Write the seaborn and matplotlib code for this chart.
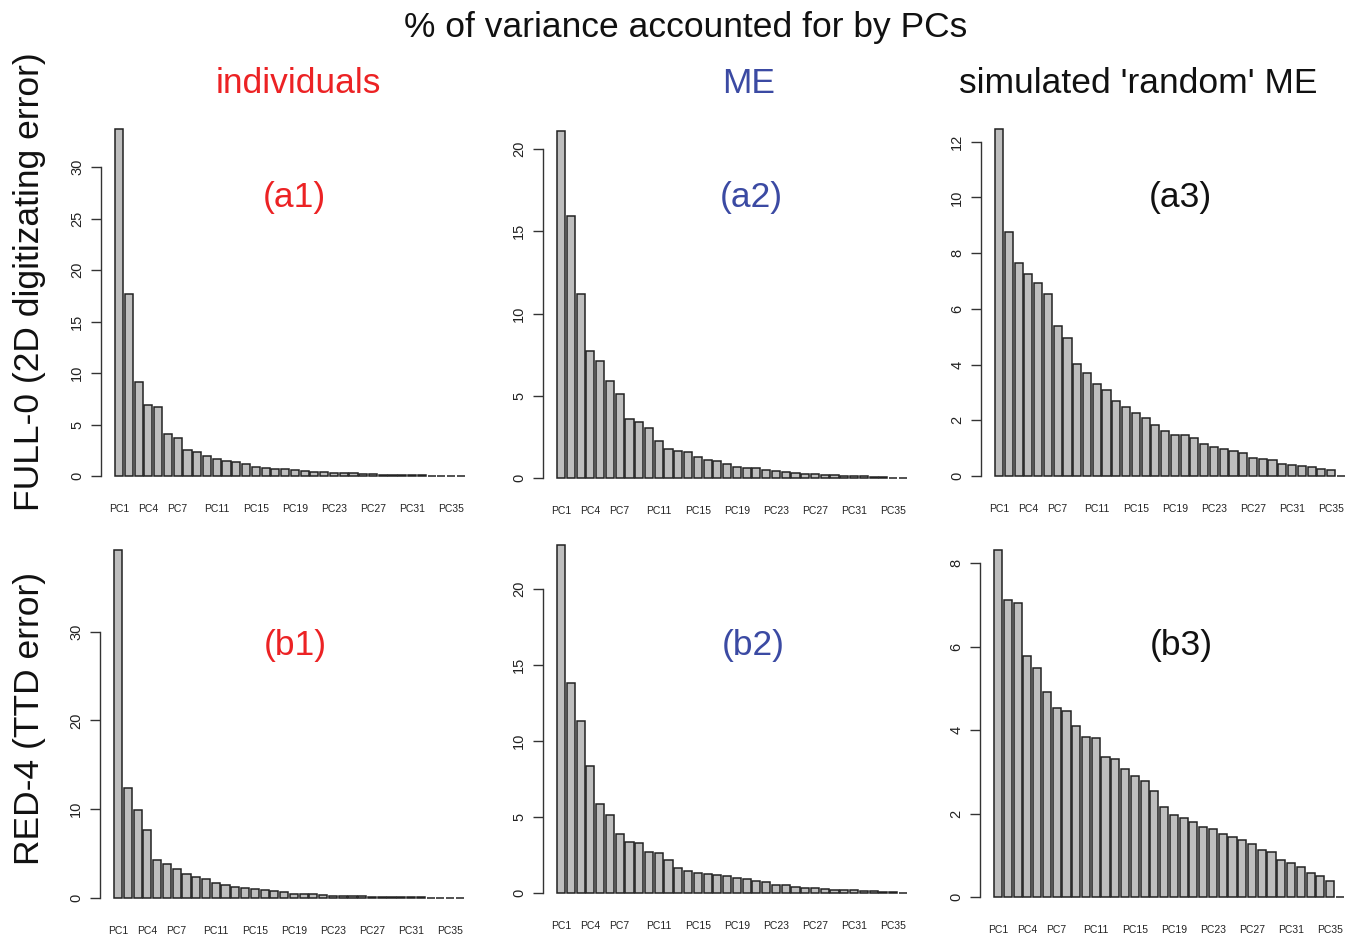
import matplotlib
matplotlib.use("Agg")
import matplotlib.pyplot as plt
import seaborn as sns

# Percentage of variance per principal component (PC1..PC36)
pcs = [f"PC{i}" for i in range(1, 37)]

a1_individuals = [33.7, 17.7, 9.1, 6.9, 6.7, 4.05, 3.66, 2.5, 2.3, 2.0, 1.65, 1.45,
                  1.4, 1.13, 0.85, 0.8, 0.71, 0.65, 0.55, 0.5, 0.42, 0.36, 0.32, 0.29,
                  0.26, 0.2, 0.18, 0.15, 0.12, 0.1, 0.08, 0.06, 0.05, 0.04, 0.03, 0.02]
a2_me = [21.1, 15.9, 11.2, 7.7, 7.09, 5.9, 5.1, 3.6, 3.42, 3.06, 2.23, 1.78,
         1.66, 1.56, 1.26, 1.11, 1.01, 0.83, 0.69, 0.63, 0.61, 0.47, 0.45, 0.4,
         0.3, 0.28, 0.22, 0.2, 0.18, 0.14, 0.12, 0.1, 0.06, 0.04, 0.02, 0.01]
a3_random = [12.46, 8.75, 7.66, 7.26, 6.93, 6.54, 5.40, 4.97, 4.01, 3.70, 3.29, 3.08,
             2.71, 2.49, 2.28, 2.07, 1.83, 1.62, 1.47, 1.46, 1.37, 1.17, 1.05, 0.96,
             0.9, 0.84, 0.66, 0.63, 0.57, 0.44, 0.40, 0.35, 0.31, 0.24, 0.23, 0.0]
b1_individuals = [39.2, 12.35, 9.97, 7.64, 4.33, 3.8, 3.31, 2.75, 2.37, 2.18, 1.73, 1.5,
                  1.28, 1.17, 0.98, 0.9, 0.79, 0.72, 0.49, 0.45, 0.41, 0.38, 0.26, 0.23,
                  0.2, 0.18, 0.16, 0.14, 0.12, 0.1, 0.09, 0.07, 0.05, 0.04, 0.03, 0.02]
b2_me = [22.88, 13.8, 11.34, 8.35, 5.87, 5.1, 3.91, 3.36, 3.27, 2.73, 2.66, 2.15,
         1.65, 1.47, 1.34, 1.23, 1.21, 1.12, 0.97, 0.92, 0.81, 0.7, 0.55, 0.5,
         0.42, 0.35, 0.33, 0.28, 0.22, 0.2, 0.17, 0.15, 0.12, 0.09, 0.06, 0.02]
b3_random = [8.32, 7.13, 7.05, 5.78, 5.49, 4.91, 4.53, 4.45, 4.09, 3.84, 3.81, 3.35,
             3.3, 3.07, 2.91, 2.79, 2.54, 2.15, 1.97, 1.9, 1.81, 1.68, 1.64, 1.52,
             1.43, 1.36, 1.28, 1.14, 1.07, 0.90, 0.82, 0.72, 0.57, 0.50, 0.38, 0.0]

shown_labels = ["PC1", "PC4", "PC7", "PC11", "PC15", "PC19", "PC23", "PC27", "PC31", "PC35"]

column_titles = ["individuals", "ME", "simulated 'random' ME"]
row_titles = ["FULL-0 (2D digitizating error)", "RED-4 (TTD error)"]

RED = "#ec2224"
BLUE = "#3b4aa3"
BLACK = "#111111"

sns.set_style("white")
plt.rcParams["font.family"] = ["Liberation Sans", "DejaVu Sans"]

W, H = 1351, 935
fig = plt.figure(figsize=(W / 100, H / 100), dpi=100)

# (values, y ticks, panel tag, tag colour, plot box in pixels: left, top, right, bottom, tag position)
panels = [
    (a1_individuals, [0, 5, 10, 15, 20, 25, 30], "(a1)", RED, (101, 115, 479, 490), (294, 197)),
    (a2_me, [0, 5, 10, 15, 20], "(a2)", BLUE, (543, 117, 921, 492), (751, 197)),
    (a3_random, [0, 2, 4, 6, 8, 10, 12], "(a3)", BLACK, (981, 115, 1359, 490), (1180, 197)),
    (b1_individuals, [0, 10, 20, 30], "(b1)", RED, (100, 536, 478, 912), (295, 645)),
    (b2_me, [0, 5, 10, 15, 20], "(b2)", BLUE, (543, 531, 921, 907), (753, 645)),
    (b3_random, [0, 2, 4, 6, 8], "(b3)", BLACK, (980, 536, 1358, 911), (1181, 645)),
]

for vals, yticks, tag, tag_col, (l, t, r, b), (tx, ty) in panels:
    ax = fig.add_axes([l / W, 1 - b / H, (r - l) / W, (b - t) / H])
    sns.barplot(x=pcs, y=vals, order=pcs, color="#bebebe", saturation=1,
                edgecolor="#222222", linewidth=1.1, width=1 / 1.2, ax=ax)
    top = max(vals)
    ax.set_ylim(-0.04 * top, 1.04 * top)
    ax.set_xlim(-1.85, 36.85)
    ax.set_xticks([pcs.index(s) for s in shown_labels])
    ax.set_xticklabels(shown_labels, fontsize=7.5, color="#222222")
    ax.tick_params(axis="x", length=0, pad=10)
    ax.set_yticks(yticks)
    ax.set_yticklabels([str(v) for v in yticks], rotation=90, va="center",
                       fontsize=10.5, color="#222222")
    ax.tick_params(axis="y", length=7, width=1, color="#333333", pad=5, left=True)
    for side in ("top", "right", "bottom"):
        ax.spines[side].set_visible(False)
    ax.spines["left"].set_bounds(yticks[0], yticks[-1])
    ax.spines["left"].set_color("#333333")
    ax.spines["left"].set_linewidth(1)
    ax.set_xlabel("")
    ax.set_ylabel("")
    ax.patch.set_alpha(0)
    fig.text(tx / W, 1 - ty / H, tag, color=tag_col, fontsize=25.5,
             ha="center", va="center")

fig.text(686 / W, 1 - 37 / H, "% of variance accounted for by PCs", fontsize=25.5,
         ha="center", va="baseline", color=BLACK)
for x, txt, col in zip([298, 749, 1138], column_titles, [RED, BLUE, BLACK]):
    fig.text(x / W, 1 - 93 / H, txt, fontsize=25.5, ha="center", va="baseline", color=col)
for y, txt in zip([282, 718], row_titles):
    fig.text(30 / W, 1 - y / H, txt, fontsize=25.5, ha="center", va="center",
             rotation=90, color=BLACK)

fig.savefig("out.png", dpi=100, facecolor="white")
